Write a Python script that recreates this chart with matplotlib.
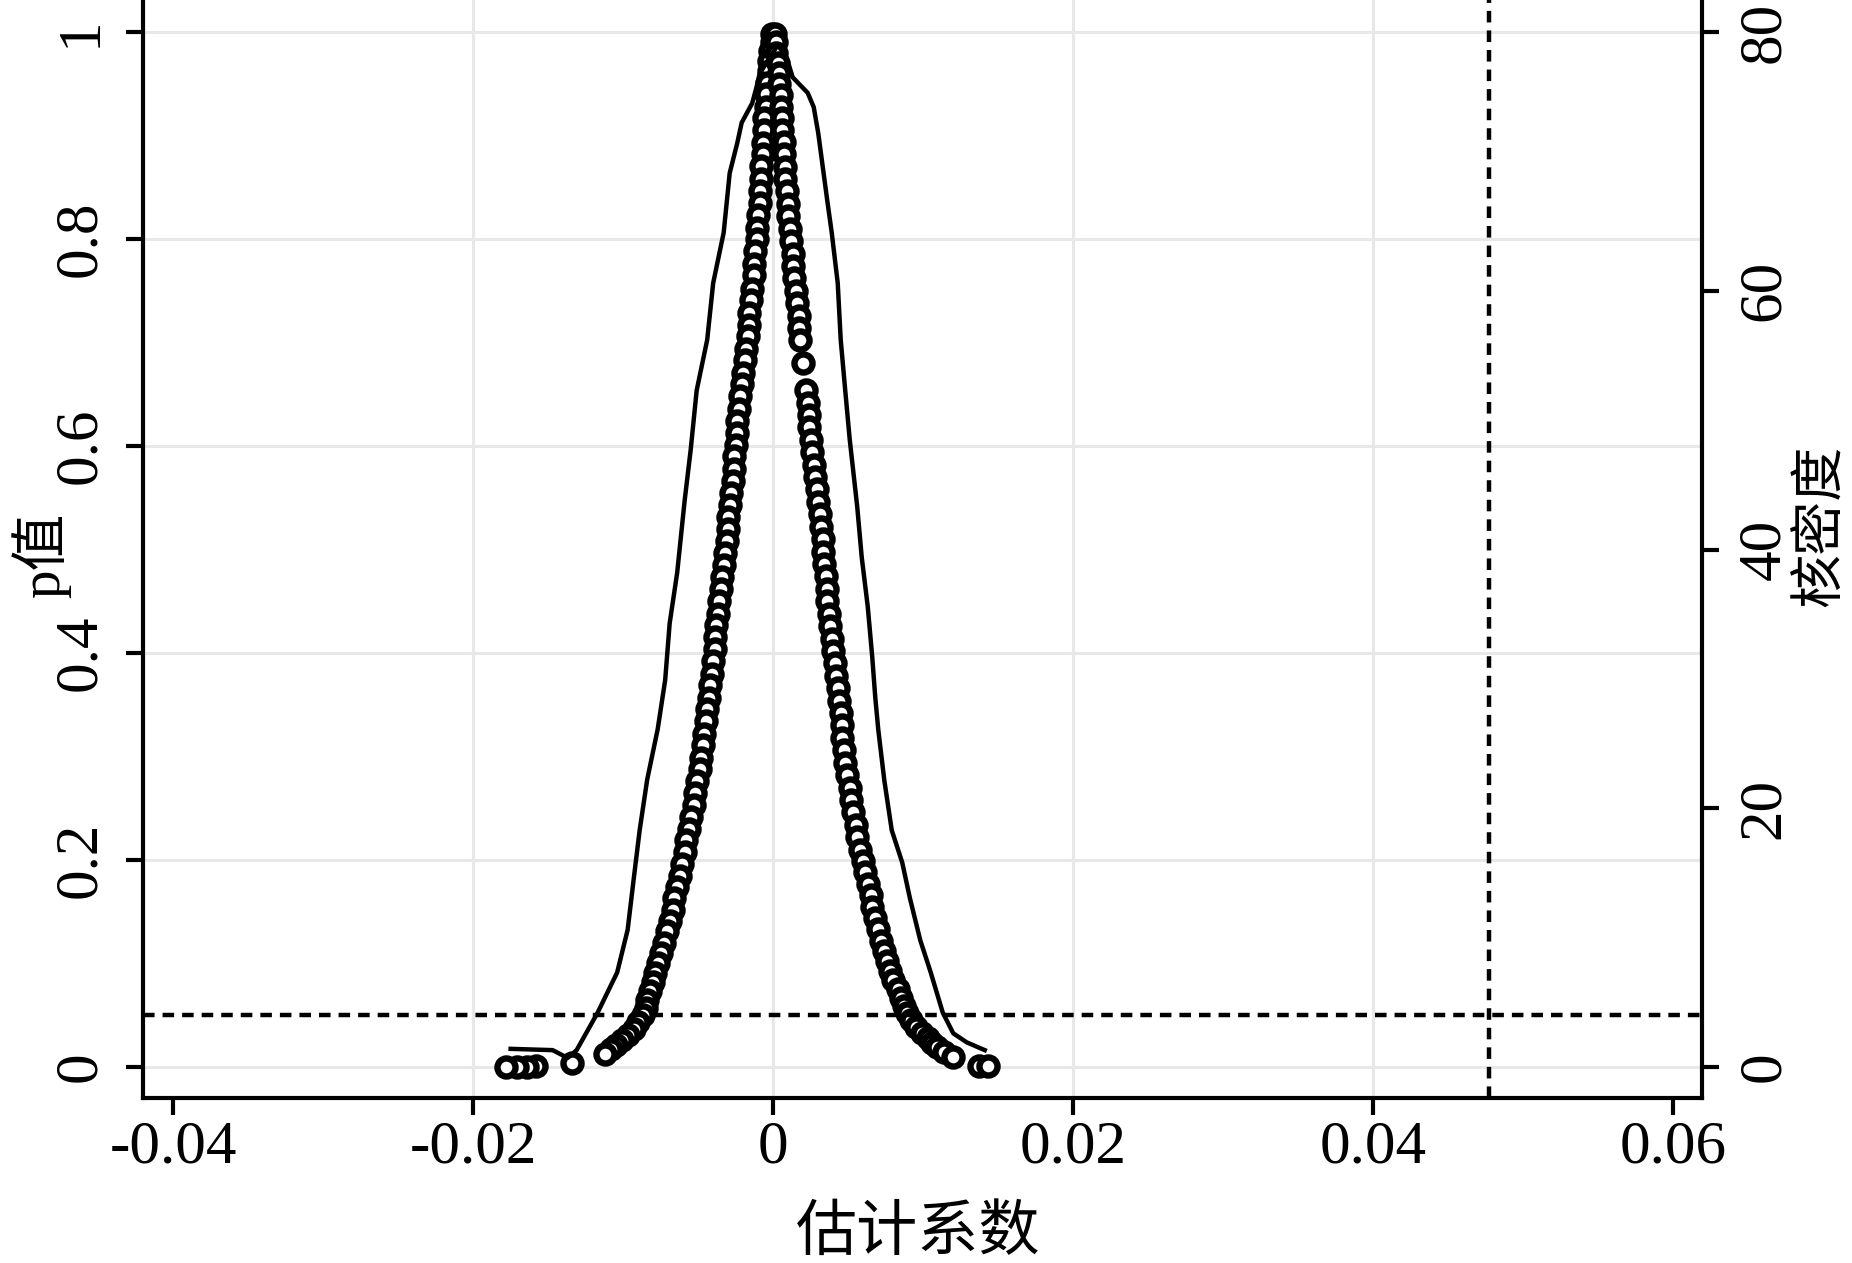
import matplotlib
matplotlib.use("Agg")
import matplotlib.pyplot as plt

# ---------------- data ----------------
# placebo estimates: left branch (coef < 0)
left_coef = [-0.0001, -0.0001, -0.0002, -0.0003, -0.0003, -0.0004, -0.0005, -0.0005, -0.0006, -0.0006,
             -0.0007, -0.0007, -0.0008, -0.0008, -0.0009, -0.0009, -0.0010, -0.0011, -0.0011, -0.0012,
             -0.0013, -0.0013, -0.0014, -0.0015, -0.0016, -0.0016, -0.0017, -0.0018, -0.0019, -0.0020,
             -0.0021, -0.0022, -0.0023, -0.0024, -0.0024, -0.0025, -0.0026, -0.0026, -0.0027, -0.0028,
             -0.0029, -0.0030, -0.0030, -0.0031, -0.0032, -0.0033, -0.0034, -0.0035, -0.0036, -0.0037,
             -0.0038, -0.0039, -0.0039, -0.0040, -0.0041, -0.0042, -0.0043, -0.0044, -0.0045, -0.0046,
             -0.0047, -0.0048, -0.0049, -0.0051, -0.0052, -0.0053, -0.0055, -0.0056, -0.0058, -0.0059,
             -0.0061, -0.0062, -0.0064, -0.0066, -0.0067, -0.0069, -0.0071, -0.0073, -0.0075, -0.0077,
             -0.0079, -0.0080, -0.0082, -0.0084, -0.0085, -0.0087, -0.0090, -0.0093, -0.0097, -0.0101,
             -0.0105, -0.0108, -0.0112, -0.0134, -0.0158, -0.0164, -0.0171, -0.0178]
left_p = [0.998, 0.990, 0.982, 0.972, 0.962, 0.951, 0.940, 0.928, 0.917, 0.905,
          0.893, 0.882, 0.871, 0.858, 0.846, 0.835, 0.823, 0.811, 0.800, 0.788,
          0.776, 0.765, 0.752, 0.741, 0.729, 0.717, 0.706, 0.694, 0.683, 0.671,
          0.660, 0.648, 0.636, 0.624, 0.613, 0.601, 0.590, 0.578, 0.566, 0.555,
          0.543, 0.531, 0.520, 0.508, 0.497, 0.485, 0.473, 0.462, 0.450, 0.438,
          0.427, 0.415, 0.404, 0.392, 0.380, 0.369, 0.357, 0.346, 0.334, 0.322,
          0.311, 0.299, 0.288, 0.276, 0.265, 0.253, 0.242, 0.230, 0.219, 0.208,
          0.196, 0.185, 0.174, 0.163, 0.152, 0.141, 0.131, 0.120, 0.110, 0.100,
          0.091, 0.082, 0.073, 0.065, 0.057, 0.050, 0.043, 0.037, 0.031, 0.026,
          0.021, 0.017, 0.013, 0.004, 0.001, 0.000, 0.000, 0.000]

# right branch (coef > 0)
right_coef = [0.0001, 0.0002, 0.0002, 0.0003, 0.0004, 0.0004, 0.0005, 0.0005, 0.0006, 0.0006,
              0.0007, 0.0007, 0.0008, 0.0008, 0.0009, 0.0010, 0.0010, 0.0011, 0.0012, 0.0013,
              0.0013, 0.0014, 0.0015, 0.0016, 0.0017, 0.0017, 0.0018, 0.0020, 0.0022, 0.0023,
              0.0024, 0.0024, 0.0025, 0.0026, 0.0027, 0.0028, 0.0029, 0.0030, 0.0031, 0.0032,
              0.0033, 0.0033, 0.0034, 0.0035, 0.0036, 0.0036, 0.0037, 0.0038, 0.0039, 0.0040,
              0.0041, 0.0042, 0.0043, 0.0044, 0.0045, 0.0046, 0.0046, 0.0047, 0.0048, 0.0049,
              0.0051, 0.0052, 0.0053, 0.0055, 0.0056, 0.0058, 0.0060, 0.0061, 0.0063, 0.0065,
              0.0066, 0.0068, 0.0070, 0.0072, 0.0074, 0.0076, 0.0078, 0.0080, 0.0083, 0.0085,
              0.0087, 0.0089, 0.0092, 0.0095, 0.0099, 0.0103, 0.0106, 0.0109, 0.0114, 0.0120,
              0.0137, 0.0143]
right_p = [0.998, 0.990, 0.980, 0.970, 0.960, 0.950, 0.939, 0.928, 0.917, 0.905,
           0.894, 0.882, 0.870, 0.858, 0.846, 0.834, 0.822, 0.810, 0.798, 0.786,
           0.774, 0.762, 0.750, 0.738, 0.726, 0.714, 0.702, 0.680, 0.654, 0.642,
           0.630, 0.618, 0.606, 0.594, 0.582, 0.570, 0.558, 0.546, 0.534, 0.522,
           0.510, 0.498, 0.486, 0.474, 0.462, 0.450, 0.438, 0.426, 0.414, 0.402,
           0.390, 0.378, 0.366, 0.354, 0.342, 0.330, 0.318, 0.306, 0.294, 0.282,
           0.270, 0.258, 0.246, 0.234, 0.222, 0.210, 0.199, 0.188, 0.177, 0.166,
           0.155, 0.144, 0.133, 0.122, 0.112, 0.102, 0.093, 0.084, 0.075, 0.067,
           0.059, 0.052, 0.045, 0.039, 0.033, 0.028, 0.023, 0.019, 0.014, 0.010,
           0.001, 0.001]

# kernel density of the estimates (right axis)
kd_x = [-0.0175, -0.0147, -0.0137, -0.0131, -0.0117, -0.0104, -0.0097, -0.0093, -0.0089, -0.0084,
        -0.0077, -0.0072, -0.0069, -0.0064, -0.0059, -0.0055, -0.0051, -0.0044, -0.0040, -0.0033,
        -0.0029, -0.0024, -0.0021, -0.0014, -0.0011, -0.0009, 0.0003, 0.0009, 0.0013, 0.0023,
        0.0027, 0.0030, 0.0033, 0.0036, 0.0039, 0.0043, 0.0045, 0.0048, 0.0051, 0.0056,
        0.0059, 0.0063, 0.0066, 0.0068, 0.0070, 0.0074, 0.0079, 0.0086, 0.0091, 0.0098,
        0.0105, 0.0113, 0.0120, 0.0129, 0.0141]
kd_y = [1.4, 1.3, 0.7, 1.3, 4.2, 7.3, 10.6, 14.5, 18.3, 22.2,
        26.1, 29.9, 34.3, 38.2, 43.8, 47.7, 52.3, 56.2, 60.6, 64.5,
        69.1, 71.4, 73.0, 74.5, 75.8, 76.8, 79.0, 78.0, 76.5, 75.3,
        74.2, 72.2, 69.6, 67.0, 64.5, 60.6, 56.2, 52.3, 48.5, 43.3,
        39.4, 35.6, 31.7, 28.6, 26.1, 22.2, 18.3, 15.8, 13.1, 9.8,
        7.3, 4.2, 2.6, 1.9, 1.3]

true_coef = 0.0477
p_threshold = 0.05

x_ticks = [-0.04, -0.02, 0, 0.02, 0.04, 0.06]
x_ticklabels = ["-0.04", "-0.02", "0", "0.02", "0.04", "0.06"]
x_grid = [-0.02, 0, 0.02, 0.04]
y_ticks = [0, 0.2, 0.4, 0.6, 0.8, 1]
y_ticklabels = ["0", "0.2", "0.4", "0.6", "0.8", "1"]
y2_ticks = [0, 20, 40, 60, 80]
y2_ticklabels = ["0", "20", "40", "60", "80"]

xlabel = "估计系数"
ylabel = "p值"
y2label = "核密度"

# ---------------- drawing ----------------
SERIF = ["Liberation Serif", "DejaVu Serif"]
CJK = ["Liberation Serif", "Noto Sans CJK SC", "DejaVu Sans"]
plt.rcParams["font.family"] = SERIF

W, H = 1852, 1263
fig = plt.figure(figsize=(W / 100, H / 100), dpi=100)
fig.patch.set_facecolor("white")

left_px, right_px, bottom_px, top_px = 143, 1702, 1098, 0
ax = fig.add_axes([left_px / W, 1 - bottom_px / H,
                   (right_px - left_px) / W, (bottom_px - top_px) / H])

ylo, yhi = -0.030, 1.031
ax.set_xlim(-0.042, 0.0619)
ax.set_ylim(ylo, yhi)

grid_c = "#e8e8e8"
for v in x_grid:
    ax.axvline(v, color=grid_c, lw=2.2, zorder=0)
for h in y_ticks:
    ax.axhline(h, color=grid_c, lw=2.2, zorder=0)

mk = dict(linestyle="none", marker="o", markersize=13,
          markerfacecolor="white", markeredgecolor="black", markeredgewidth=4.6, zorder=3)
ax.plot(left_coef, left_p, **mk)
ax.plot(right_coef, right_p, **mk)

hl = ax.axhline(p_threshold, color="black", lw=3.2, zorder=4)
hl.set_dashes([2.6, 1.8])
vl = ax.axvline(true_coef, color="black", lw=3.2, zorder=4)
vl.set_dashes([2.6, 1.8])

ax2 = ax.twinx()
ax2.set_ylim(ylo * 80, yhi * 80)
ax2.plot(kd_x, kd_y, color="black", lw=3.2, zorder=5)

for s in ["top", "right"]:
    ax.spines[s].set_visible(False)
for s in ["top", "left", "bottom"]:
    ax2.spines[s].set_visible(False)
for sp in [ax.spines["left"], ax.spines["bottom"], ax2.spines["right"]]:
    sp.set_linewidth(3.0)

fs = 44
ax.set_xticks(x_ticks)
ax.set_xticklabels(x_ticklabels, fontsize=fs)
ax.set_yticks(y_ticks)
ax.set_yticklabels(y_ticklabels, fontsize=fs, rotation=90, va="center")
ax2.set_yticks(y2_ticks)
ax2.set_yticklabels(y2_ticklabels, fontsize=fs, rotation=90, va="center")

ax.tick_params(axis="x", direction="out", length=12, width=3, pad=4)
ax.tick_params(axis="y", direction="out", length=12, width=3, pad=13)
ax2.tick_params(axis="y", direction="out", length=12, width=3, pad=13)

fig.text(918 / W, 1 - 1234 / H, xlabel, family=CJK, fontsize=44,
         ha="center", va="center")
fig.text(41 / W, 1 - 555 / H, ylabel, family=CJK, fontsize=41,
         ha="center", va="center", rotation=90)
fig.text(1822 / W, 1 - 526 / H, y2label, family=CJK, fontsize=39,
         ha="center", va="center", rotation=90)

fig.savefig("out.png", dpi=100, facecolor="white")
